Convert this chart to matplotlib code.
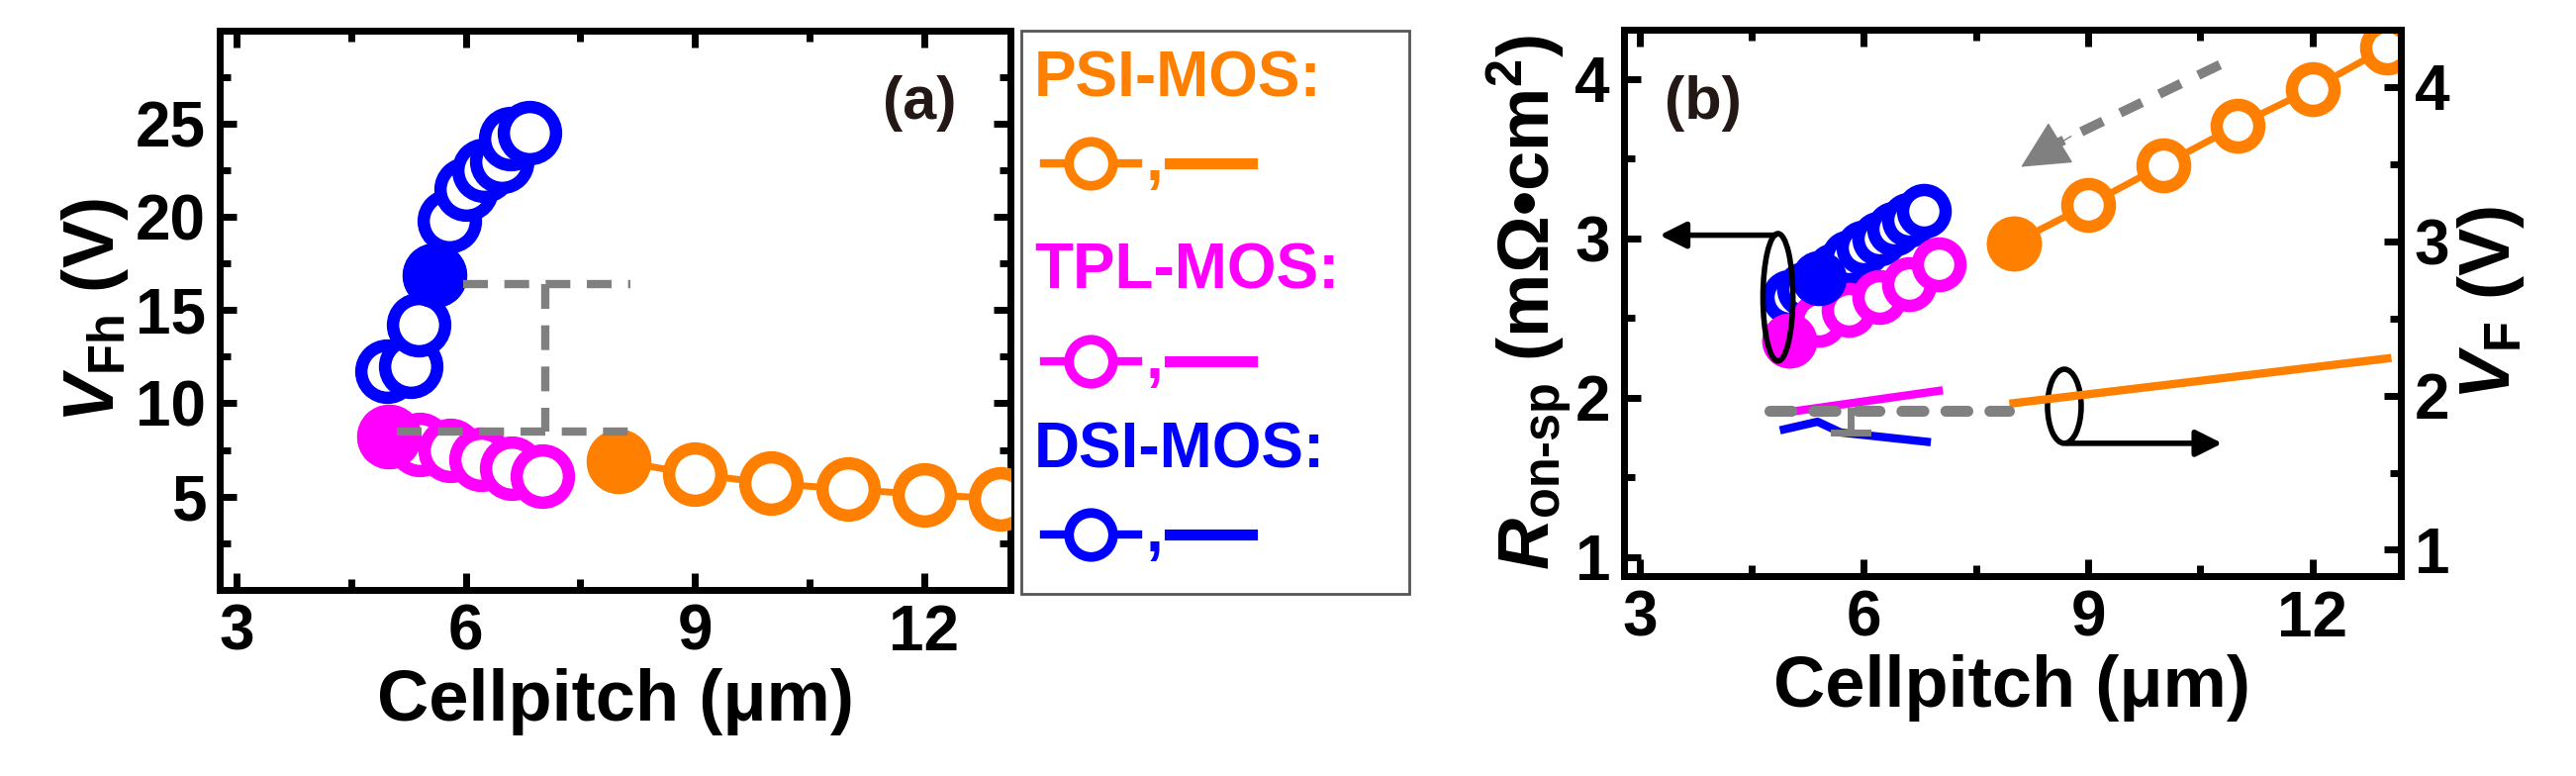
import numpy as np
import matplotlib.pyplot as plt
from matplotlib.patches import Ellipse, Rectangle

plt.rcParams['font.family'] = ['Liberation Sans', 'DejaVu Sans']
plt.rcParams['font.weight'] = 'bold'
plt.rcParams['axes.labelweight'] = 'bold'
plt.rcParams['mathtext.fontset'] = 'custom'
plt.rcParams['mathtext.rm'] = 'Liberation Sans:bold'
plt.rcParams['mathtext.it'] = 'Liberation Sans:bold:italic'
plt.rcParams['mathtext.bf'] = 'Liberation Sans:bold'

ORANGE = '#ff8000'
MAGENTA = '#ff00ff'
BLUE = '#0000ff'
GRAY = '#808080'

# (a) V_Fh vs cellpitch
psi_x = [8, 9, 10, 11, 12, 13]
psi_vfh = [6.9, 6.2, 5.7, 5.4, 5.1, 4.9]
tpl_x = [5.0, 5.4, 5.8, 6.2, 6.6, 7.0]
tpl_vfh = [8.2, 7.8, 7.5, 7.0, 6.5, 6.1]
dsi_xa = [4.97, 5.28, 5.38, 5.59, 5.79, 6.0, 6.24, 6.47, 6.59, 6.83]
dsi_vfh = [11.7, 12.0, 14.2, 16.9, 19.8, 21.5, 22.5, 23.0, 24.2, 24.5]

# (b) Ron-sp and VF vs cellpitch
psi_ron = [2.97, 3.21, 3.46, 3.71, 3.94, 4.20]
tpl_ron = [2.36, 2.49, 2.55, 2.63, 2.71, 2.84]
dsi_xb = [5.0, 5.2, 5.4, 5.6, 5.8, 6.0, 6.2, 6.4, 6.6, 6.8]
dsi_ron = [2.63, 2.68, 2.75, 2.80, 2.88, 2.94, 3.00, 3.06, 3.12, 3.17]
psi_vf_x = [8, 13]
psi_vf = [1.95, 2.24]
tpl_vf_x = [5.1, 7.0]
tpl_vf = [1.90, 2.03]
dsi_vf_x = [4.93, 5.38, 5.69, 6.84]
dsi_vf = [1.78, 1.83, 1.76, 1.70]

fig = plt.figure(figsize=(26.03, 7.84), dpi=100)
axa = fig.add_axes([0.0853, 0.240, 0.307, 0.7207])
axb = fig.add_axes([0.6304, 0.2577, 0.3016, 0.704])
axr = axb.twinx()

TICK = 46
LAB = 52

def style(ax):
    for s in ax.spines.values():
        s.set_linewidth(5)
    ax.tick_params(which='both', direction='in', width=5, length=12,
                   labelsize=TICK, top=True, pad=10)
    ax.tick_params(which='minor', length=8)

def circles(ax, x, y, color, filled, ms, mew, line=True):
    x = np.asarray(x)
    y = np.asarray(y)
    ax.plot(x, y, '-' if line else 'none', color=color, lw=5, marker='o',
            ms=ms, mew=mew, mfc='white', mec=color, zorder=3)
    ax.plot(x[filled], y[filled], 'o', color=color, ms=ms + mew, mew=0, zorder=4)

# ---- panel (a)
style(axa)
axa.set_xlim(2.78, 13.13)
axa.set_ylim(0, 30)
axa.set_xticks([3, 6, 9, 12])
axa.set_xticks(np.arange(4.5, 13.1, 3), minor=True)
axa.set_yticks([5, 10, 15, 20, 25])
axa.set_yticks(np.arange(2.5, 30, 5), minor=True)
axa.tick_params(which='both', right=True)
circles(axa, psi_x, psi_vfh, ORANGE, 0, 38, 9)
circles(axa, tpl_x, tpl_vfh, MAGENTA, 0, 38, 9, line=False)
circles(axa, dsi_xa, dsi_vfh, BLUE, 3, 38, 9, line=False)
gk = dict(color=GRAY, lw=6, ls=(0, (3, 2)), zorder=5)
axa.plot([5.97, 8.15], [16.4, 16.4], **gk)
axa.plot([5.1, 8.34], [8.5, 8.5], **gk)
axa.plot([7.04, 7.04], [16.4, 8.5], **gk)
axa.text(11.94, 26.1, '(a)', fontsize=44, color='#231815', ha='center', va='center')
axa.set_xlabel('Cellpitch (μm)', fontsize=LAB, labelpad=4)
axa.set_ylabel('$V_{\\mathrm{Fh}}$ (V)', fontsize=LAB, labelpad=4)

# ---- legend box
fig.patches.append(Rectangle((1032 / 2603, 1 - 600 / 784), 392 / 2603, 569 / 784,
                             transform=fig.transFigure, fill=False, ec='#555555', lw=2))
for name, col, ty, my in [('PSI-MOS:', ORANGE, 80, 165), ('TPL-MOS:', MAGENTA, 275, 365),
                          ('DSI-MOS:', BLUE, 455, 540)]:
    fig.text(1045 / 2603, 1 - ty / 784, name, color=col, fontsize=46, va='center')
    yy = 1 - my / 784
    fig.add_artist(plt.Line2D([1055 / 2603, 1150 / 2603], [yy, yy], color=col, lw=6,
                              transform=fig.transFigure))
    fig.add_artist(plt.Line2D([1102 / 2603], [yy], color=col, marker='o', ms=32, mew=7,
                              mfc='white', transform=fig.transFigure))
    fig.text(1158 / 2603, yy, ',', color=col, fontsize=46, va='center')
    fig.add_artist(plt.Line2D([1182 / 2603, 1265 / 2603], [yy, yy], color=col, lw=8,
                              transform=fig.transFigure))

# ---- panel (b)
style(axb)
axb.tick_params(which='both', right=False)
axb.set_xlim(2.79, 13.18)
axb.set_ylim(0.88, 4.31)
axb.set_xticks([3, 6, 9, 12])
axb.set_xticks(np.arange(4.5, 13.2, 3), minor=True)
axb.set_yticks([1, 2, 3, 4])
axb.set_yticks([1.5, 2.5, 3.5], minor=True)
for s in axr.spines.values():
    s.set_linewidth(5)
axr.tick_params(which='both', direction='in', width=5, length=12, labelsize=TICK, pad=10)
axr.tick_params(which='minor', length=8)
axr.set_ylim(0.83, 4.37)
axr.set_yticks([1, 2, 3, 4])
axr.set_yticks([1.5, 2.5, 3.5], minor=True)

circles(axb, psi_x, psi_ron, ORANGE, 0, 31, 9)
circles(axb, dsi_xb, dsi_ron, BLUE, 2, 31, 9, line=False)
circles(axb, tpl_x, tpl_ron, MAGENTA, 0, 31, 9, line=False)
axr.plot(psi_vf_x, psi_vf, color=ORANGE, lw=6)
axr.plot(tpl_vf_x, tpl_vf, color=MAGENTA, lw=6)
axr.plot(dsi_vf_x, dsi_vf, color=BLUE, lw=6)
axr.plot([4.73, 7.94], [1.90, 1.90], color=GRAY, lw=8, ls=(0, (2, 2)), dash_capstyle='round')
axr.plot([5.82, 5.82], [1.90, 1.76], color=GRAY, lw=5)
axr.plot([5.6, 6.04], [1.76, 1.76], color=GRAY, lw=5)
# annotation ellipses and arrows
axb.add_patch(Ellipse((4.85, 2.63), 0.4, 0.8, fill=False, lw=4, color='k', zorder=5))
axb.annotate('', xy=(3.23, 3.02), xytext=(4.85, 3.02),
             arrowprops=dict(arrowstyle='-|>', lw=4, color='k', mutation_scale=40))
axr.add_patch(Ellipse((8.68, 1.93), 0.45, 0.48, fill=False, lw=4, color='k'))
axr.annotate('', xy=(10.83, 1.69), xytext=(8.68, 1.69),
             arrowprops=dict(arrowstyle='-|>', lw=4, color='k', mutation_scale=40))
axb.plot([10.76, 8.6], [4.09, 3.6], color=GRAY, lw=7, ls=(0, (2.5, 2)))
axb.annotate('', xy=(8.07, 3.44), xytext=(8.8, 3.65),
             arrowprops=dict(arrowstyle='-|>', lw=1, color=GRAY,
                             mutation_scale=80))
axb.text(3.85, 3.85, '(b)', fontsize=44, color='#231815', ha='center', va='center')
axb.set_xlabel('Cellpitch (μm)', fontsize=LAB, labelpad=4)
axb.set_ylabel('$R_{\\mathrm{on\\text{-}sp}}$ (mΩ•cm$^2$)', fontsize=LAB, labelpad=0)
axr.set_ylabel('$V_{\\mathrm{F}}$ (V)', fontsize=LAB, labelpad=4)

fig.savefig('out.png', dpi=100)
